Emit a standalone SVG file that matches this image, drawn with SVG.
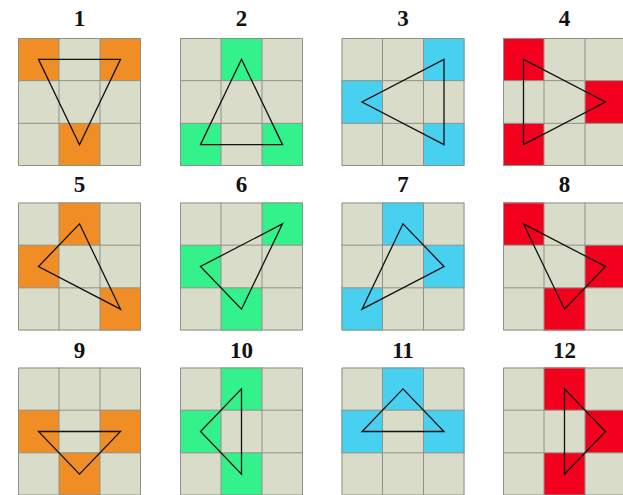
<svg xmlns="http://www.w3.org/2000/svg" xmlns:xlink="http://www.w3.org/1999/xlink" width="623" height="495" viewBox="0 0 623 495">
<style>
.bg{fill:#d8dcc9}
.o{fill:#f18d25}
.g{fill:#33f18b}
.b{fill:#48d0f1}
.r{fill:#f2001d}
.grid{fill:none;stroke:#8e9287;stroke-width:1}
.tri{fill:none;stroke:#111;stroke-width:1.3;stroke-linejoin:miter}
.lbl{font-family:"Liberation Serif",serif;font-weight:bold;font-size:23px;fill:#111;text-anchor:middle}
</style>
<defs>
<rect id="base" class="bg" x="0" y="0" width="123" height="128"/>
<path id="lines" class="grid" d="M0.5,0.5H122.5V127.5H0.5Z M41,0V128 M82,0V128 M0,42.67H123 M0,85.33H123"/>
</defs>
<rect width="623" height="495" fill="#fff"/>

<g id="n1" transform="translate(18,38)">
<use xlink:href="#base"/>
<rect class="o" x="0" y="0" width="41" height="42.67"/><rect class="o" x="82" y="0" width="41" height="42.67"/><rect class="o" x="41" y="85.33" width="41" height="42.67"/>
<use xlink:href="#lines"/>
<polygon class="tri" points="20.5,21.33 102.5,21.33 61.5,106.67"/>
<text class="lbl" x="61.5" y="-12">1</text>
</g>

<g id="n2" transform="translate(180,38)">
<use xlink:href="#base"/>
<rect class="g" x="41" y="0" width="41" height="42.67"/><rect class="g" x="0" y="85.33" width="41" height="42.67"/><rect class="g" x="82" y="85.33" width="41" height="42.67"/>
<use xlink:href="#lines"/>
<polygon class="tri" points="61.5,21.33 20.5,106.67 102.5,106.67"/>
<text class="lbl" x="61.5" y="-12">2</text>
</g>

<g id="n3" transform="translate(341.5,38)">
<use xlink:href="#base"/>
<rect class="b" x="82" y="0" width="41" height="42.67"/><rect class="b" x="0" y="42.67" width="41" height="42.67"/><rect class="b" x="82" y="85.33" width="41" height="42.67"/>
<use xlink:href="#lines"/>
<polygon class="tri" points="102.5,21.33 20.5,64 102.5,106.67"/>
<text class="lbl" x="61.5" y="-12">3</text>
</g>

<g id="n4" transform="translate(503,38)">
<use xlink:href="#base"/>
<rect class="r" x="0" y="0" width="41" height="42.67"/><rect class="r" x="82" y="42.67" width="41" height="42.67"/><rect class="r" x="0" y="85.33" width="41" height="42.67"/>
<use xlink:href="#lines"/>
<polygon class="tri" points="20.5,21.33 102.5,64 20.5,106.67"/>
<text class="lbl" x="61.5" y="-12">4</text>
</g>

<g id="n5" transform="translate(18,202.5)">
<use xlink:href="#base"/>
<rect class="o" x="41" y="0" width="41" height="42.67"/><rect class="o" x="0" y="42.67" width="41" height="42.67"/><rect class="o" x="82" y="85.33" width="41" height="42.67"/>
<use xlink:href="#lines"/>
<polygon class="tri" points="61.5,21.33 20.5,64 102.5,106.67"/>
<text class="lbl" x="61.5" y="-11">5</text>
</g>

<g id="n6" transform="translate(180,202.5)">
<use xlink:href="#base"/>
<rect class="g" x="82" y="0" width="41" height="42.67"/><rect class="g" x="0" y="42.67" width="41" height="42.67"/><rect class="g" x="41" y="85.33" width="41" height="42.67"/>
<use xlink:href="#lines"/>
<polygon class="tri" points="102.5,21.33 20.5,64 61.5,106.67"/>
<text class="lbl" x="61.5" y="-11">6</text>
</g>

<g id="n7" transform="translate(341.5,202.5)">
<use xlink:href="#base"/>
<rect class="b" x="41" y="0" width="41" height="42.67"/><rect class="b" x="82" y="42.67" width="41" height="42.67"/><rect class="b" x="0" y="85.33" width="41" height="42.67"/>
<use xlink:href="#lines"/>
<polygon class="tri" points="61.5,21.33 102.5,64 20.5,106.67"/>
<text class="lbl" x="61.5" y="-11">7</text>
</g>

<g id="n8" transform="translate(503,202.5)">
<use xlink:href="#base"/>
<rect class="r" x="0" y="0" width="41" height="42.67"/><rect class="r" x="82" y="42.67" width="41" height="42.67"/><rect class="r" x="41" y="85.33" width="41" height="42.67"/>
<use xlink:href="#lines"/>
<polygon class="tri" points="20.5,21.33 102.5,64 61.5,106.67"/>
<text class="lbl" x="61.5" y="-11">8</text>
</g>

<g id="n9" transform="translate(18,367.5)">
<use xlink:href="#base"/>
<rect class="o" x="0" y="42.67" width="41" height="42.67"/><rect class="o" x="82" y="42.67" width="41" height="42.67"/><rect class="o" x="41" y="85.33" width="41" height="42.67"/>
<use xlink:href="#lines"/>
<polygon class="tri" points="20.5,64 102.5,64 61.5,106.67"/>
<text class="lbl" x="61.5" y="-10">9</text>
</g>

<g id="n10" transform="translate(180,367.5)">
<use xlink:href="#base"/>
<rect class="g" x="41" y="0" width="41" height="42.67"/><rect class="g" x="0" y="42.67" width="41" height="42.67"/><rect class="g" x="41" y="85.33" width="41" height="42.67"/>
<use xlink:href="#lines"/>
<polygon class="tri" points="61.5,21.33 20.5,64 61.5,106.67"/>
<text class="lbl" x="61.5" y="-10">10</text>
</g>

<g id="n11" transform="translate(341.5,367.5)">
<use xlink:href="#base"/>
<rect class="b" x="41" y="0" width="41" height="42.67"/><rect class="b" x="0" y="42.67" width="41" height="42.67"/><rect class="b" x="82" y="42.67" width="41" height="42.67"/>
<use xlink:href="#lines"/>
<polygon class="tri" points="61.5,21.33 20.5,64 102.5,64"/>
<text class="lbl" x="61.5" y="-10">11</text>
</g>

<g id="n12" transform="translate(503,367.5)">
<use xlink:href="#base"/>
<rect class="r" x="41" y="0" width="41" height="42.67"/><rect class="r" x="82" y="42.67" width="41" height="42.67"/><rect class="r" x="41" y="85.33" width="41" height="42.67"/>
<use xlink:href="#lines"/>
<polygon class="tri" points="61.5,21.33 102.5,64 61.5,106.67"/>
<text class="lbl" x="61.5" y="-10">12</text>
</g>

<g id="connectors"/>
</svg>
